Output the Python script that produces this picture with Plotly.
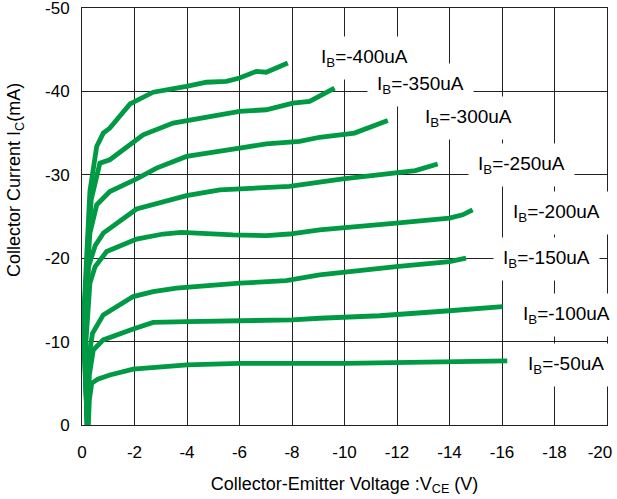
import plotly.graph_objects as go

# ---- data ----
series_names = ["I<sub>B</sub>=-50uA", "I<sub>B</sub>=-100uA", "I<sub>B</sub>=-150uA", "I<sub>B</sub>=-200uA",
                "I<sub>B</sub>=-250uA", "I<sub>B</sub>=-300uA", "I<sub>B</sub>=-350uA", "I<sub>B</sub>=-400uA"]

vce_50 = [-0.24, -0.28, -0.37, -0.6, -1.06, -1.95, -4.0, -6.0, -10.0, -14.0, -16.2]
ic_50 = [0, -3, -5.0, -5.5, -6.0, -6.7, -7.2, -7.4, -7.4, -7.6, -7.7]

vce_100 = [-0.22, -0.28, -0.43, -0.81, -1.95, -2.71, -4, -6, -8, -9.05, -11.33, -14, -16.02]
ic_100 = [0, -6, -9, -10.2, -11.5, -12.3, -12.4, -12.5, -12.6, -12.8, -13.1, -13.7, -14.2]

vce_150 = [-0.2, -0.25, -0.4, -0.81, -1.95, -2.71, -3.6, -6, -7.78, -9.05, -11.97, -14, -14.63]
ic_150 = [0, -8, -11, -13.2, -15.4, -16.0, -16.4, -17.0, -17.3, -18.0, -19.0, -19.6, -20.0]

vce_200 = [-0.2, -0.15, -0.3, -0.5, -0.94, -2.08, -3.09, -3.79, -5.75, -7.02, -7.9, -9.05, -11.97, -14, -14.5, -14.88]
ic_200 = [0, -10, -17, -19, -20.8, -22.3, -22.9, -23.1, -22.8, -22.7, -22.9, -23.4, -24.2, -24.8, -25.2, -25.8]

vce_250 = [-0.2, -0.1, -0.25, -0.5, -0.81, -2.08, -3.98, -5.25, -7.9, -9.94, -12.7, -13.55]
ic_250 = [0, -10, -19, -21.5, -23.0, -25.9, -27.5, -28.2, -28.6, -29.5, -30.5, -31.3]

vce_300 = [-0.2, -0.08, -0.3, -0.56, -1.06, -2.08, -2.84, -3.98, -6, -7.02, -8.29, -9.05, -10.38, -11.65]
ic_300 = [0, -12, -23, -26.4, -28.0, -29.5, -30.8, -32.2, -33.2, -33.7, -34.0, -34.5, -35.0, -36.5]

vce_350 = [-0.2, -0.05, -0.35, -0.68, -1.06, -2.33, -3.47, -3.98, -6, -7.02, -8.03, -8.67, -9.62]
ic_350 = [0, -12, -27, -31.4, -31.8, -34.8, -36.2, -36.5, -37.6, -37.8, -38.6, -38.8, -40.4]

vce_400 = [-0.2, -0.05, -0.3, -0.56, -0.81, -1.06, -1.83, -2.71, -3.98, -4.74, -5.5, -6, -6.64, -7.02, -7.84]
ic_400 = [0, -12, -28, -33.4, -35, -35.6, -38.5, -39.9, -40.6, -41.1, -41.2, -41.6, -42.4, -42.3, -43.4]

x_tickvals = [0, -2, -4, -6, -8, -10, -12, -14, -16, -18, -20]
x_ticktext = ["0", "-2", "-4", "-6", "-8", "-10", "-12", "-14", "-16", "-18", "-20"]
y_tickvals = [0, -10, -20, -30, -40, -50]
y_ticktext = ["0", "-10", "-20", "-30", "-40", "-50"]

# ---- layout helpers (label placement, not data) ----
label_pos = [(-16.62, -7.2), (-16.43, -13.2), (-15.67, -19.9), (-16.05, -25.4),
             (-14.71, -31.2), (-12.70, -36.8), (-10.87, -40.8), (-8.71, -44.0)]

GREEN = "#009944"
FONT = "Arial, Liberation Sans, sans-serif"

xs = [vce_50, vce_100, vce_150, vce_200, vce_250, vce_300, vce_350, vce_400]
ys = [ic_50, ic_100, ic_150, ic_200, ic_250, ic_300, ic_350, ic_400]

# last x tick label nudged left so it stays inside the page, as in the reference
x_ticktext_shown = x_ticktext[:-1] + [x_ticktext[-1] + "&nbsp;&nbsp;&nbsp;"]

fig = go.Figure()
for name, x, y in zip(series_names, xs, ys):
    fig.add_trace(go.Scatter(x=x, y=y, mode="lines", name=name,
                             line=dict(color=GREEN, width=4.8), showlegend=False))

# top labels first so lower label boxes overlap them (as in the reference)
for name, (lx, ly) in reversed(list(zip(series_names, label_pos))):
    fig.add_annotation(x=lx, y=ly, xref="x", yref="y", text=name, showarrow=False,
                       xanchor="left", yanchor="middle", bgcolor="white", borderpad=9,
                       font=dict(family=FONT, size=19, color="black"))

fig.add_annotation(x=-0.1276, y=0.5875, xref="paper", yref="paper",
                   text="Collector Current I<sub>C</sub>(mA)", textangle=-90, showarrow=False,
                   xanchor="center", yanchor="middle",
                   font=dict(family=FONT, size=18, color="black"))

fig.update_layout(
    width=617, height=499,
    margin=dict(l=82, r=10, t=8, b=74),
    paper_bgcolor="white", plot_bgcolor="white",
    font=dict(family=FONT, size=17, color="black"),
    xaxis=dict(range=[0, -20], tickvals=x_tickvals, ticktext=x_ticktext_shown,
               showgrid=True, gridcolor="#222", gridwidth=1,
               showline=True, linecolor="#222", linewidth=1, mirror=True,
               zeroline=False, ticks="", ticklabelstandoff=12, automargin=False,
               ticklabeloverflow="allow",
               title=dict(text="Collector-Emitter Voltage :V<sub>CE</sub> (V)",
                          font=dict(family=FONT, size=18), standoff=15)),
    yaxis=dict(range=[0, -50], tickvals=y_tickvals, ticktext=y_ticktext,
               showgrid=True, gridcolor="#222", gridwidth=1,
               showline=True, linecolor="#222", linewidth=1, mirror=True,
               zeroline=False, ticks="", ticklabelstandoff=8, automargin=False,
               ticklabeloverflow="allow"),
)

fig.write_html("out.html", config={"displayModeBar": False},
               post_script="document.body.style.margin='0';")
